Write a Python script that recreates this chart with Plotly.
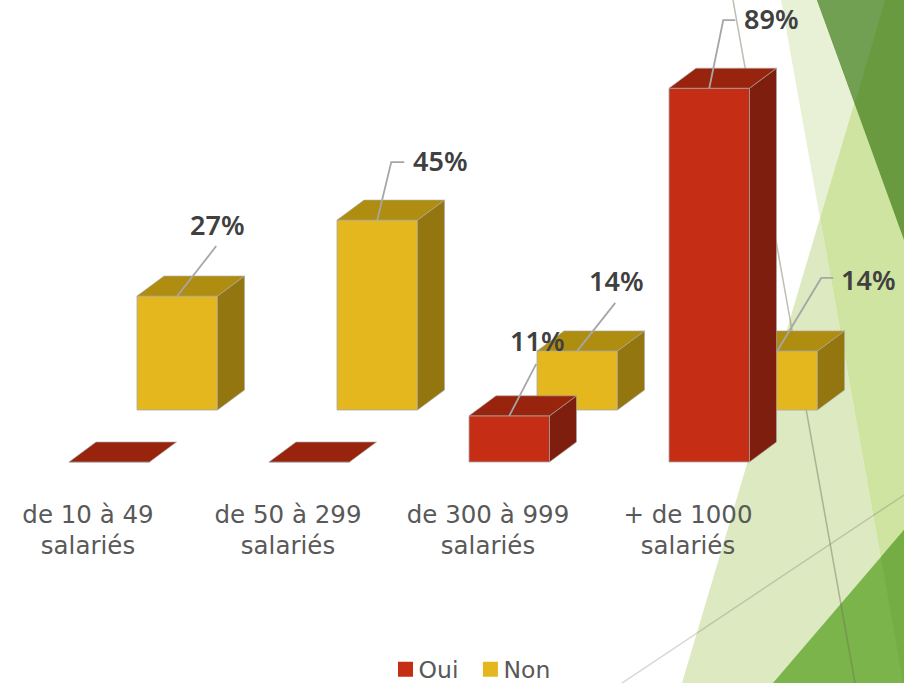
import plotly.graph_objects as go

categories = ["de 10 à 49<br>salariés", "de 50 à 299<br>salariés", "de 300 à 999<br>salariés", "+ de 1000<br>salariés"]
oui = [0, 0, 11, 89]
non = [27, 45, 14, 14]

W, H = 904, 683
FONT = "Noto Sans"
AXIS_FONT = "DejaVu Sans"
PX_X = 200.0          # pixels per category
SCALE_OUI = 4.2       # pixels per percent
SCALE_NON = 4.22
BASE_OUI = 462
BASE_NON = 410
X0 = 88
BAR_W = 80.5 / PX_X
OFF_OUI = -19 / PX_X
OFF_NON = 49 / PX_X
DX = 27 / PX_X
DY_PX = 20
EDGE = "rgba(170,170,170,0.85)"

xr = [-X0 / PX_X, (W - X0) / PX_X]
yr_oui = [-(H - BASE_OUI) / SCALE_OUI, BASE_OUI / SCALE_OUI]
yr_non = [-(H - BASE_NON) / SCALE_NON, BASE_NON / SCALE_NON]

fig = go.Figure()


def add_series(name, vals, off, scale, front, top, side, xa, ya):
    xs = list(range(len(vals)))
    fig.add_trace(go.Bar(
        x=xs, y=vals, width=BAR_W, offset=off, marker=dict(color=front, line=dict(color=EDGE, width=1)),
        xaxis=xa, yaxis=ya, showlegend=False, hoverinfo="skip", name=name,
    ))
    dy = DY_PX / scale
    sx, sy, tx, ty = [], [], [], []
    for i, v in zip(xs, vals):
        l = i + off
        r = l + BAR_W
        if v > 0:
            sx += [r, r + DX, r + DX, r, r, None]
            sy += [0, dy, v + dy, v, 0, None]
        tx += [l, l + DX, r + DX, r, l, None]
        ty += [v, v + dy, v + dy, v, v, None]
    for px, py, col in ((sx, sy, side), (tx, ty, top)):
        fig.add_trace(go.Scatter(
            x=px, y=py, mode="lines", fill="toself", fillcolor=col, line=dict(color=EDGE, width=0.75),
            xaxis=xa, yaxis=ya, showlegend=False, hoverinfo="skip",
        ))


add_series("Non", non, OFF_NON, SCALE_NON, "#e5b71e", "#af8d10", "#937610", "x", "y")
add_series("Oui", oui, OFF_OUI, SCALE_OUI, "#c52e15", "#98240e", "#7e1e0e", "x2", "y2")

LEAD = dict(color="#a6a6a6", width=1.8)


def leader(i, v, off, scale, pts, xa, ya):
    ax = i + off + BAR_W / 2
    xs = [ax] + [ax + p[0] / PX_X for p in pts]
    ys = [v] + [v + p[1] / scale for p in pts]
    fig.add_trace(go.Scatter(x=xs, y=ys, mode="lines", line=LEAD, xaxis=xa, yaxis=ya,
                             showlegend=False, hoverinfo="skip"))


# leader bends, in pixels from the top of each front face
leader(0, non[0], OFF_NON, SCALE_NON, [(39, 50)], "x3", "y3")
leader(1, non[1], OFF_NON, SCALE_NON, [(14, 58), (27, 58)], "x3", "y3")
leader(2, non[2], OFF_NON, SCALE_NON, [(38, 48)], "x3", "y3")
leader(3, non[3], OFF_NON, SCALE_NON, [(44, 73), (56, 73)], "x3", "y3")
leader(2, oui[2], OFF_OUI, SCALE_OUI, [(27, 52)], "x3", "y4")
leader(3, oui[3], OFF_OUI, SCALE_OUI, [(14, 68), (26, 68)], "x3", "y4")

# legend entries
fig.add_trace(go.Scatter(x=[None], y=[None], mode="markers", name="Oui",
                         marker=dict(symbol="square", size=15, color="#c52e15")))
fig.add_trace(go.Scatter(x=[None], y=[None], mode="markers", name="Non",
                         marker=dict(symbol="square", size=15, color="#e5b71e")))

# value labels
LABEL = dict(showarrow=False, font=dict(family=FONT, size=27, color="#404040", weight=600),
             xanchor="center", yanchor="middle")
label_pos = [
    (0, non[0], OFF_NON, "x", "y", 40, 72),
    (1, non[1], OFF_NON, "x", "y", 63, 60),
    (2, non[2], OFF_NON, "x", "y", 39, 70),
    (3, non[3], OFF_NON, "x", "y", 91, 71),
    (2, oui[2], OFF_OUI, "x2", "y2", 28, 75),
    (3, oui[3], OFF_OUI, "x2", "y2", 62, 70),
]
annots = []
for i, v, off, xa, ya, dx, dy in label_pos:
    annots.append(dict(text=f"{v}%", x=i + off + BAR_W / 2, y=v, xref=xa, yref=ya, xshift=dx, yshift=dy, **LABEL))


def poly(points, color):
    path = "M" + " L".join(f"{x / W},{1 - y / H}" for x, y in points) + " Z"
    return dict(type="path", path=path, xref="paper", yref="paper", layer="below",
                fillcolor=color, line=dict(width=0))


def seg(p, q, color, width):
    return dict(type="line", x0=p[0] / W, y0=1 - p[1] / H, x1=q[0] / W, y1=1 - q[1] / H,
                xref="paper", yref="paper", layer="below", line=dict(color=color, width=width))


shapes = [
    poly([(781, 0), (885, 0), (820, 218)], "#e8f1d6"),
    poly([(820, 218), (682, 683), (903, 683)], "#dde9c0"),
    poly([(885, 0), (904, 0), (904, 683), (903, 683), (820, 218)], "#cee4a0"),
    poly([(817, 0), (904, 0), (904, 240)], "#6a9a40"),
    poly([(817, 0), (885, 0), (855, 103)], "#72a052"),
    poly([(773, 683), (904, 530), (904, 683)], "#7ab44a"),
    poly([(881, 557), (904, 530), (904, 683), (903, 683)], "#74ad44"),
    seg((733, 0), (855, 683), "rgba(110,110,90,0.45)", 1.5),
    seg((622, 683), (904, 495), "rgba(120,120,110,0.3)", 1.5),
]

hidden_x = dict(range=xr, visible=False, overlaying="x")
fig.update_layout(
    width=W, height=H, margin=dict(l=0, r=0, t=0, b=0, autoexpand=False), autosize=False,
    paper_bgcolor="white", plot_bgcolor="rgba(0,0,0,0)", barmode="overlay",
    xaxis=dict(range=xr, tickmode="array", tickvals=list(range(len(categories))), ticktext=categories,
               anchor="free", position=1 - 497 / H, ticks="", showgrid=False, zeroline=False, showline=False,
               tickfont=dict(family=AXIS_FONT, size=24.5, color="#595959"), tickangle=0),
    yaxis=dict(range=yr_non, visible=False),
    xaxis2=hidden_x, yaxis2=dict(range=yr_oui, visible=False, overlaying="y"),
    xaxis3=hidden_x, yaxis3=dict(range=yr_non, visible=False, overlaying="y"),
    yaxis4=dict(range=yr_oui, visible=False, overlaying="y"),
    legend=dict(orientation="h", x=467 / W, xanchor="center", y=1 - 669.5 / H, yanchor="middle",
                font=dict(family=AXIS_FONT, size=23.5, color="#595959"), bgcolor="rgba(0,0,0,0)",
                itemwidth=30),
    annotations=annots, shapes=shapes, showlegend=True,
)
fig.write_html(
    "out.html",
    config=dict(displayModeBar=False),
    post_script="document.body.style.margin='0';"
                "document.querySelectorAll('.legend .legendpoints').forEach(function(g){g.setAttribute('transform','translate(7,0)');});",
)
